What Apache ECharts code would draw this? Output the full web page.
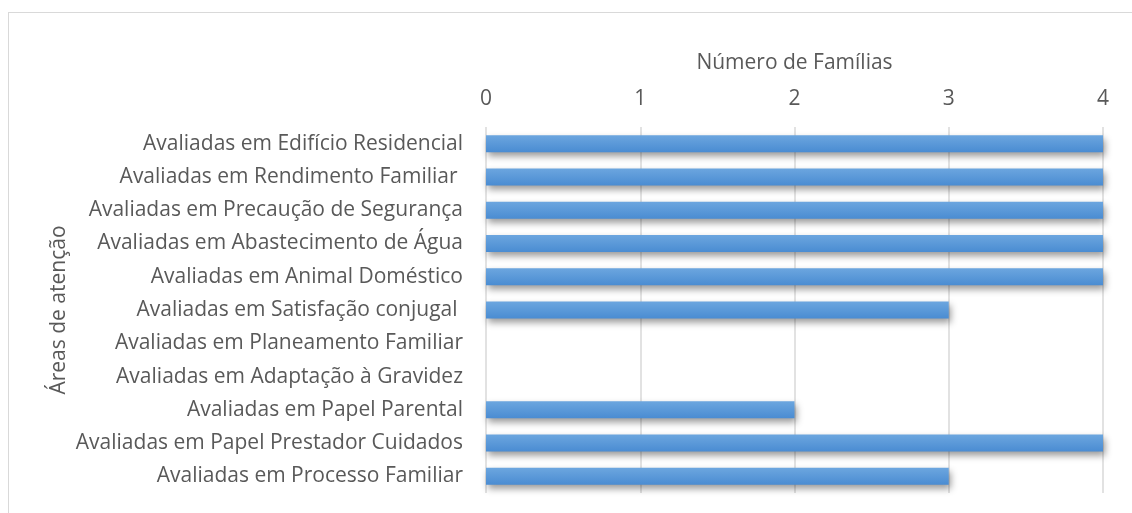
<!DOCTYPE html>
<html lang="pt">
<head>
    <meta charset="UTF-8">
    <title>Áreas de atenção</title>
    <script src="https://cdn.jsdelivr.net/npm/echarts@6.0.0/dist/echarts.min.js"></script>
    <style>
        html, body {
            margin: 0;
            padding: 0;
            background: #ffffff;
            overflow: hidden;
        }
        .frame {
            position: absolute;
            left: 8px;
            top: 12px;
            width: 1200px;
            height: 600px;
            border: 1px solid #d9d9d9;
        }
        #chart {
            position: absolute;
            left: 0;
            top: 0;
            width: 1132px;
            height: 513px;
        }
    </style>
</head>
<body>
    <div class="frame"></div>
    <div id="chart"></div>
    <script>
        // categorias, de cima para baixo
        const categorias = [
            'Avaliadas em Edifício Residencial',
            'Avaliadas em Rendimento Familiar ',
            'Avaliadas em Precaução de Segurança',
            'Avaliadas em Abastecimento de Água',
            'Avaliadas em Animal Doméstico',
            'Avaliadas em Satisfação conjugal ',
            'Avaliadas em Planeamento Familiar',
            'Avaliadas em Adaptação à Gravidez',
            'Avaliadas em Papel Parental',
            'Avaliadas em Papel Prestador Cuidados',
            'Avaliadas em Processo Familiar'
        ];
        const familias = [4, 4, 4, 4, 4, 3, 0, 0, 2, 4, 3];

        const fonte = '"Open Sans", "Noto Sans", sans-serif';
        const cinza = '#595959';
        const tam = 21;

        const chart = echarts.init(document.getElementById('chart'));

        const option = {
            animation: false,
            grid: {
                left: 486,
                right: 29,
                top: 127,
                bottom: 20
            },
            xAxis: {
                type: 'value',
                position: 'top',
                min: 0,
                max: 4,
                interval: 1,
                name: 'Número de Famílias',
                nameLocation: 'middle',
                nameGap: 53,
                nameMoveOverlap: false,
                nameTextStyle: { color: cinza, fontSize: tam, fontFamily: fonte },
                axisLine: { show: false },
                axisTick: { show: false },
                axisLabel: { color: cinza, fontSize: tam, fontFamily: fonte, margin: 17 },
                splitLine: { show: true, lineStyle: { color: '#d9d9d9', width: 1.5 } }
            },
            yAxis: {
                type: 'category',
                inverse: true,
                data: categorias,
                name: 'Áreas de atenção',
                nameLocation: 'middle',
                nameGap: 416,
                nameMoveOverlap: false,
                nameTextStyle: { color: cinza, fontSize: tam, fontFamily: fonte },
                axisLine: { show: false },
                axisTick: { show: false },
                axisLabel: { color: cinza, fontSize: tam, fontFamily: fonte, margin: 23, padding: [4, 0, 0, 0] }
            },
            series: [{
                name: 'Número de Famílias',
                type: 'bar',
                data: familias,
                barWidth: 17,
                itemStyle: {
                    color: new echarts.graphic.LinearGradient(0, 0, 0, 1, [
                        { offset: 0, color: '#6ca6df' },
                        { offset: 1, color: '#4a8cd2' }
                    ]),
                    shadowColor: 'rgba(0, 0, 0, 0.4)',
                    shadowBlur: 7,
                    shadowOffsetX: 2,
                    shadowOffsetY: 4
                }
            }]
        };

        chart.setOption(option);
    </script>
</body>
</html>
